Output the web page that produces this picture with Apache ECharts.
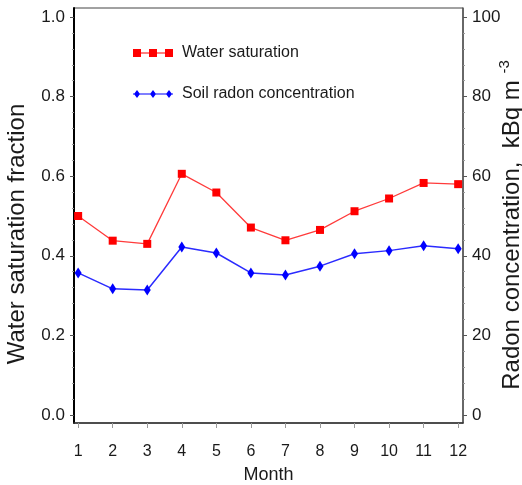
<!DOCTYPE html>
<html>
<head>
<meta charset="utf-8">
<script src="https://cdn.jsdelivr.net/npm/echarts@6/dist/echarts.min.js"></script>
<style>html,body{margin:0;padding:0;background:#fff}#c{width:522px;height:485px}</style>
</head>
<body>
<div id="c"></div>
<script>
var months = [1,2,3,4,5,6,7,8,9,10,11,12];
var waterSaturation = [0.500, 0.438, 0.430, 0.606, 0.559, 0.471, 0.439, 0.465, 0.512, 0.544, 0.583, 0.580];
var radonConcentration = [35.7, 31.7, 31.4, 42.2, 40.7, 35.7, 35.2, 37.4, 40.5, 41.3, 42.5, 41.8];
var leftTicks = [0, 0.2, 0.4, 0.6, 0.8, 1.0];
var rightTicks = [0, 20, 40, 60, 80, 100];
var seriesNames = ['Water saturation', 'Soil radon concentration'];

var FONT = 'Liberation Sans, Arial, sans-serif';
var TXT = '#1a1a1a';
var L = 74, R = 59, T = 8, B = 62;
var XMIN = 0.88, XMAX = 12.14;

var chart = echarts.init(document.getElementById('c'), null, {renderer: 'canvas'});
var option = {
  animation: false,
  backgroundColor: '#fff',
  textStyle: {fontFamily: FONT},
  grid: [
    {left: L, right: R, top: T, bottom: B, show: true, borderColor: '#444', borderWidth: 1,
     backgroundColor: 'transparent', outerBoundsMode: 'none', containLabel: false},
    {left: L, right: R, top: 17, bottom: 70, outerBoundsMode: 'none', containLabel: false}
  ],
  legend: {
    orient: 'vertical', left: 133, top: 45, itemGap: 25, padding: 0,
    itemWidth: 40, itemHeight: 8,
    textStyle: {fontFamily: FONT, fontSize: 16, color: TXT, padding: [0,0,0,4]},
    data: [
      {name: seriesNames[0], icon: 'path://M0,3.4H40V4.6H0Z M0,0H8V8H0Z M16,0H24V8H16Z M32,0H40V8H32Z'},
      {name: seriesNames[1], icon: 'path://M0,3.4H40V4.6H0Z M4,0L7,4L4,8L1,4Z M20,0L23,4L20,8L17,4Z M36,0L39,4L36,8L33,4Z'}
    ]
  },
  xAxis: [
    {type: 'value', gridIndex: 0, min: XMIN, max: XMAX,
     name: 'Month', nameLocation: 'middle', nameGap: 43,
     nameTextStyle: {fontSize: 18, color: TXT, fontFamily: FONT},
     axisLine: {show: true, lineStyle: {color: '#333', width: 1.5}},
     axisTick: {show: true, length: 5, lineStyle: {color: '#999'}, customValues: months},
     axisLabel: {show: true, margin: 21, fontSize: 16, color: TXT, customValues: months},
     splitLine: {show: false}},
    {type: 'value', gridIndex: 1, min: XMIN, max: XMAX, show: false, splitLine: {show: false}}
  ],
  yAxis: [
    {type: 'value', gridIndex: 0, position: 'left', min: 0, max: 1,
     axisLine: {show: true, onZero: false, lineStyle: {color: '#000', width: 2}},
     axisTick: {show: false}, axisLabel: {show: false}, splitLine: {show: false}},
    {type: 'value', gridIndex: 0, position: 'right', min: 0, max: 1,
     axisLine: {show: true, onZero: false, lineStyle: {color: '#555', width: 1.5}},
     axisTick: {show: false}, axisLabel: {show: false}, splitLine: {show: false}},
    {type: 'value', gridIndex: 1, position: 'left', min: 0, max: 1, interval: 0.2,
     name: 'Water saturation fraction', nameLocation: 'middle', nameRotate: 90, nameGap: 45,
     nameMoveOverlap: false,
     nameTextStyle: {fontSize: 24, color: TXT, fontFamily: FONT, padding: [0, 36, 0, 0]},
     axisLine: {show: false},
     axisTick: {show: true, length: 4, lineStyle: {color: '#555'}},
     minorTick: {show: true, splitNumber: 5, length: 2, lineStyle: {color: '#999'}},
     axisLabel: {margin: 9, fontSize: 17, color: TXT, formatter: function (v) { return v.toFixed(1); }},
     splitLine: {show: false}},
    {type: 'value', gridIndex: 1, position: 'right', min: 0, max: 100, interval: 20,
     name: '{a|Radon concentration,  kBq m }{s|-3}', nameLocation: 'middle', nameRotate: 90, nameGap: 34,
     nameMoveOverlap: false,
     nameTextStyle: {fontSize: 24, color: TXT, fontFamily: FONT,
       rich: {a: {fontSize: 24, color: TXT, fontFamily: FONT, lineHeight: 30},
              s: {fontSize: 15, color: TXT, fontFamily: FONT, verticalAlign: 'top', padding: [0, 18, 0, 0]}}},
     axisLine: {show: false},
     axisTick: {show: true, length: 4, lineStyle: {color: '#555'}},
     minorTick: {show: true, splitNumber: 5, length: 2, lineStyle: {color: '#999'}},
     axisLabel: {margin: 9, fontSize: 17, color: TXT},
     splitLine: {show: false}}
  ],
  series: [
    {name: seriesNames[0], type: 'line', xAxisIndex: 1, yAxisIndex: 2,
     data: months.map(function (m, i) { return [m, waterSaturation[i]]; }),
     symbol: 'rect', symbolSize: 8,
     lineStyle: {color: '#ff3b3b', width: 1.3},
     itemStyle: {color: '#ff0000'}},
    {name: seriesNames[1], type: 'line', xAxisIndex: 1, yAxisIndex: 3,
     data: months.map(function (m, i) { return [m, radonConcentration[i]]; }),
     symbol: 'diamond', symbolSize: [7, 11],
     lineStyle: {color: '#2b2bff', width: 1.5},
     itemStyle: {color: '#0000ff'}}
  ]
};
chart.setOption(option);
</script>
</body>
</html>
